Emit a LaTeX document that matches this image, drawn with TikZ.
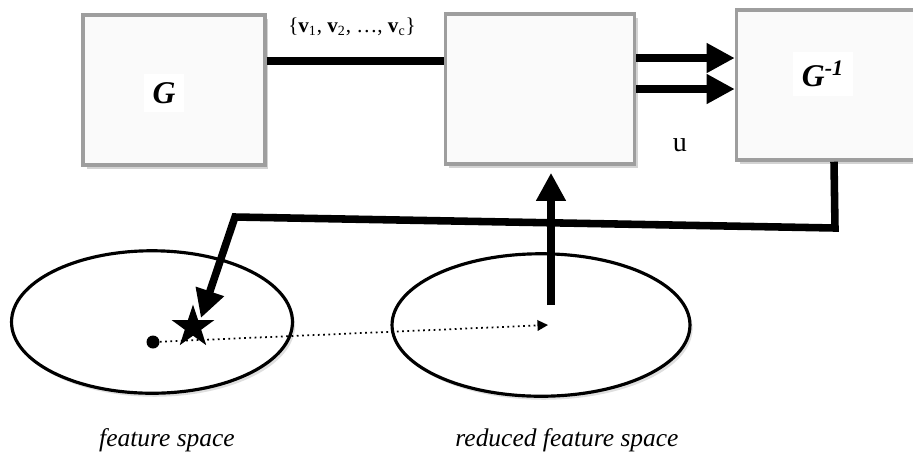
\documentclass[tikz,border=0pt]{standalone}
\usepackage{fontspec}
\setmainfont{Liberation Serif}
\usepackage{tikz}
\usepackage{xcolor}
\usetikzlibrary{
  arrows.meta, calc, positioning, shapes.geometric, shadows
}
\definecolor{boxgray}{HTML}{9E9E9E}
\definecolor{boxfill}{HTML}{FAFAFA}
\definecolor{inkblack}{HTML}{000000}
\tikzset{
  % Mapping blocks -- light fill, gray frame
  block/.style={
    draw=boxgray, fill=boxfill, line width=2pt,
    minimum width=#1, minimum height=3cm, inner sep=0pt,
    drop shadow={shadow xshift=2pt, shadow yshift=-2.5pt, opacity=0.35},
  },
  blocklabel/.style={
    fill=white, inner sep=5pt, text=inkblack,
    font=\fontsize{18}{21}\selectfont\bfseries\itshape,
  },
  % Feature spaces
  space/.style={
    ellipse, draw=inkblack, fill=white, line width=1.8pt,
    minimum width=#1, minimum height=2.85cm, inner sep=0pt,
    drop shadow={shadow xshift=1.5pt, shadow yshift=-2pt, opacity=0.25},
  },
  caption/.style={font=\fontsize{14.5}{17}\selectfont\itshape},
  % Arrows
  flow/.style={line width=4.3pt, inkblack},
  flowarr/.style={-{Triangle[length=16pt, width=16pt]}, line width=4.3pt, inkblack},
  maparr/.style={-{Triangle[length=6pt, width=6pt]}, line width=1pt,
                 dotted, inkblack},
}

\begin{document}
\begin{tikzpicture}[x=0.02cm, y=-0.02cm]
  \useasboundingbox (0,0) rectangle (913,458);

  % blocks
  \node[block=3.64cm] (g) at (174,90) {};
  \node[block=3.78cm] (mid) at (540,89) {};
  \node[block=3.9cm] (ginv) at (834,85) {};
  \node[blocklabel] (glabel) at (164,93) {G};
  \node[blocklabel] (ginvlabel) at (823,74) {G\textsuperscript{-1}};

  % spaces
  \node[space=5.62cm] (fs) at (152,322) {};
  \node[space=5.96cm] (rfs) at (541,325) {};
  \node[caption] (fscap) at (167,440) {feature space};
  \node[caption] (rfscap) at (567,440) {reduced feature space};

  % points
  \node[circle, fill=inkblack, minimum size=0.26cm, inner sep=0pt] (dot) at (153,342) {};
  \node[star, star points=5, star point ratio=2.6, fill=inkblack,
        minimum size=0.9cm, inner sep=0pt] (star) at (193,327) {};
  \coordinate (rp) at (548,325);
  \coordinate (up) at (551,305);
  \coordinate (fbr) at (835,228);
  \coordinate (fbl) at (235,217);

  % labels
  \node[font=\fontsize{12}{14}\selectfont] (vlabel) at (352,27)
    {\{\textbf{v}\textsubscript{1}, \textbf{v}\textsubscript{2}, \dots, \textbf{v}\textsubscript{c}\}};
  \node[font=\fontsize{16}{18}\selectfont] (ulabel) at (680,145) {u};

  % connectors
  \draw[flow] ([yshift=0.58cm]g.east) -- ([yshift=0.58cm]g.east -| mid.west);
  \draw[flowarr] ([yshift=0.62cm]mid.east) -- ([yshift=0.62cm]mid.east -| ginv.west);
  \draw[flowarr] (mid.east) -- (mid.east -| ginv.west);
  \draw[flowarr, shorten >=1pt] (ginv.south) -- (fbr) -- (fbl) -- (star.north east);
  \draw[flowarr, shorten >=4pt] (up) -- (up |- mid.south);
  \draw[maparr] (dot) -- (rp);
\end{tikzpicture}
\end{document}
